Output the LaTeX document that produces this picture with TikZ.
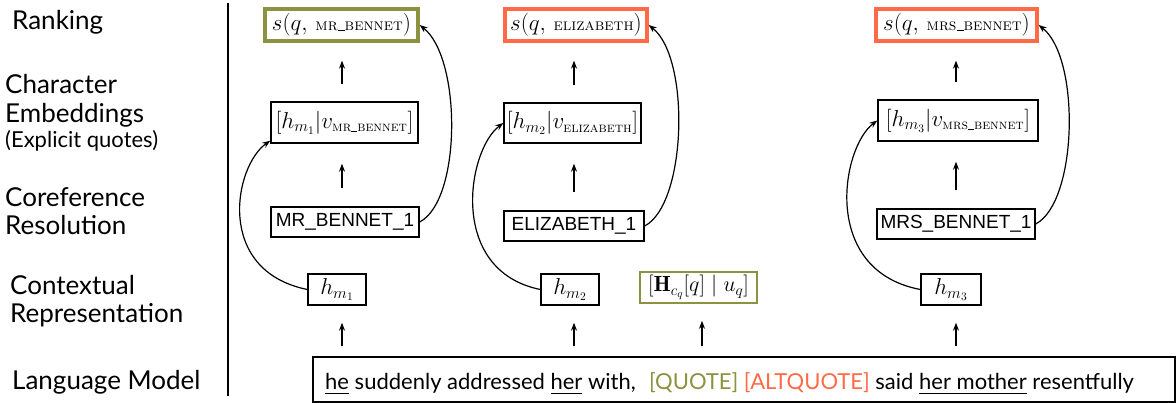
\RequirePackage{fix-cm}
\documentclass[tikz,border=0pt]{standalone}
\usepackage{amsmath}
\usepackage{graphicx}
\usepackage{fontspec}
\setsansfont{Lato}
\newfontfamily\arialf{Liberation Sans}
\usetikzlibrary{arrows.meta}
\definecolor{myolive}{RGB}{140,146,64}
\definecolor{myorange}{RGB}{255,107,71}
\newcommand{\myus}{\rule[-0.02em]{0.42em}{0.05em}}
\newcommand{\scsub}[1]{\text{\scalebox{0.88}{\textsc{#1}}}}
\newcommand{\scsmall}[1]{\text{\scalebox{0.72}{\textsc{#1}}}}
\tikzset{
  lab/.style={font=\sffamily\fontsize{26}{26}\selectfont, anchor=base west, inner sep=0},
  smalllab/.style={font=\sffamily\fontsize{22}{22}\selectfont, anchor=base west, inner sep=0},
  mathbox/.style={draw=black, line width=1.4pt, inner sep=0, font=\fontsize{23}{26}\selectfont},
  scorebox/.style={draw=#1, line width=3.3pt, inner sep=0, font=\fontsize{23}{26}\selectfont, minimum height=32pt},
  namebox/.style={draw=black, line width=1.4pt, inner sep=0, minimum height=30pt, font=\arialf\fontsize{19}{19}\selectfont},
  arr/.style={-{Stealth[length=8pt,width=6pt]}, line width=1.2pt},
}
\begin{document}
\begin{tikzpicture}[x=1pt,y=-1pt]
\useasboundingbox (0,0) rectangle (1176,403);

% left labels
\node[lab] (l1) at (12,30) {Ranking};
\node[lab] (l2) at (5,94) {Character};
\node[lab] (l3) at (5,123) {Embeddings};
\node[smalllab] (l4) at (5,148) {(Explicit quotes)};
\node[lab] (l5) at (5,207) {Coreference};
\node[lab] (l6) at (5,235) {Resolution};
\node[lab] (l7) at (10,295) {Contextual};
\node[lab] (l8) at (10,323) {Representation};
\node[lab] (l9) at (12,390) {Language Model};
\draw[line width=2pt] (228,3) -- (228,396);

% column 1
\node[scorebox=myolive, minimum width=153pt] (s1) at (341.5,25) {$s(q,\,\scsmall{mr\myus bennet})$};
\node[mathbox, minimum width=147pt, minimum height=41pt] (e1) at (344.5,122.5) {$\left[h_{m_1}\middle|v_{\scsub{mr\myus bennet}}\right]$};
\node[namebox, minimum width=148pt] (c1) at (345,222) {MR\_BENNET\_1};
\node[mathbox, minimum width=58pt, minimum height=31pt] (h1) at (337,289.5) {$h_{m_1}$};

% column 2
\node[scorebox=myorange, minimum width=142pt] (s2) at (576,25) {$s(q,\,\scsmall{elizabeth})$};
\node[mathbox, minimum width=137pt, minimum height=40pt] (e2) at (572.5,123) {$\left[h_{m_2}\middle|v_{\scsub{elizabeth}}\right]$};
\node[namebox, minimum width=140pt] (c2) at (574,226) {ELIZABETH\_1};
\node[mathbox, minimum width=58pt, minimum height=31pt] (h2) at (570,289.5) {$h_{m_2}$};
\node[mathbox, draw=myolive, line width=1.6pt, minimum width=117pt, minimum height=31pt, font=\fontsize{22}{26}\selectfont] (hq) at (698.5,287.5) {$[\mathbf{H}_{c_q}[q]\mid u_q]$};

% column 3
\node[scorebox=myorange, minimum width=161pt] (s3) at (956.5,25) {$s(q,\,\scsmall{mrs\myus bennet})$};
\node[mathbox, minimum width=160pt, minimum height=41pt] (e3) at (958,120.5) {$\left[h_{m_3}\middle|v_{\scsub{mrs\myus bennet}}\right]$};
\node[namebox, minimum width=158pt] (c3) at (956,224) {MRS\_BENNET\_1};
\node[mathbox, minimum width=60pt, minimum height=31pt] (h3) at (951,289.5) {$h_{m_3}$};

% language model
\node[draw=black, line width=1.4pt, minimum width=862pt, minimum height=45pt, inner sep=0] (lm) at (744,379.5) {};
\node[font=\sffamily\fontsize{22}{22}\selectfont, anchor=base west, inner sep=0] (lmt) at (325,390)
  {\underline{he} suddenly addressed \underline{her} with,\hspace{0.6em}{\color{myolive}[QUOTE]} {\color{myorange}[ALTQUOTE]} said \underline{her mother} resentfully};

% arrow columns
\coordinate (x1) at (342,0);
\coordinate (x2) at (574,0);
\coordinate (xq) at (702,0);
\coordinate (x3) at (956,0);

\foreach \c/\h in {x1/h1, x2/h2, xq/hq, x3/h3}{
  \draw[arr, shorten <=10pt, shorten >=17pt] (\c |- lm.north) -- (\c |- \h.south);
}
\foreach \c/\e/\n in {x1/e1/c1, x2/e2/c2, x3/e3/c3}{
  \draw[arr, shorten <=18pt, shorten >=20pt] (\c |- \n.north) -- (\c |- \e.south);
}
\foreach \c/\s/\e in {x1/s1/e1, x2/s2/e2, x3/s3/e3}{
  \draw[arr, shorten <=17pt, shorten >=18pt] (\c |- \e.north) -- (\c |- \s.south);
}

% curved connectors
\draw[arr] (h1.west) .. controls +(-93,-19) and +(-36,25) .. ([yshift=3pt]e1.south west);
\draw[arr] (h2.west) .. controls +(-93,-19) and +(-36,27) .. (e2.west);
\draw[arr] (h3.west) .. controls +(-100,-19) and +(-36,27) .. (e3.west);
\draw[arr] (c1.east) .. controls +(42,-22) and +(42,33) .. (s1.east);
\draw[arr] (c2.east) .. controls +(42,-22) and +(42,33) .. (s2.east);
\draw[arr] (c3.east) .. controls +(42,-22) and +(42,33) .. (s3.east);
\end{tikzpicture}
\end{document}
